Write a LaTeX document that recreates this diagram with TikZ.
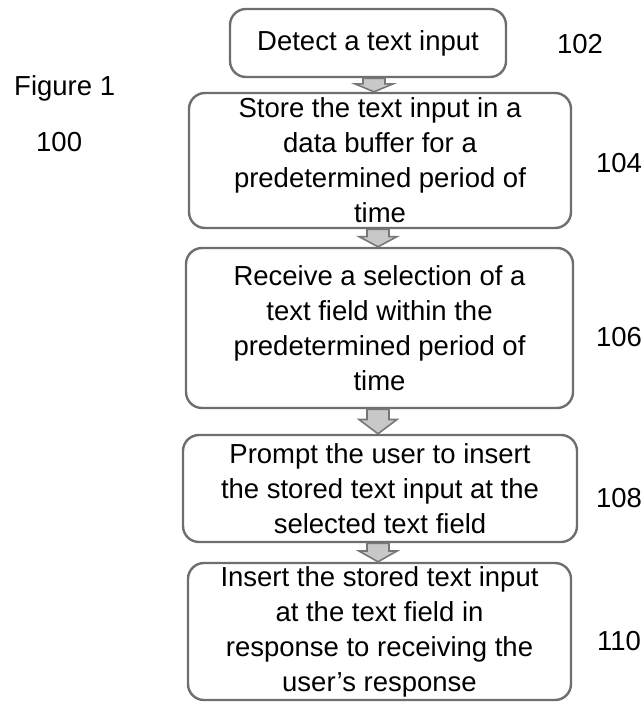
\documentclass[tikz,border=0pt]{standalone}
\usepackage{fontspec}
\setmainfont{Liberation Sans}
\usetikzlibrary{calc}
\definecolor{edgegray}{HTML}{6E6E6E}
\definecolor{arrowfill}{HTML}{C8C8C8}
\definecolor{arrowedge}{HTML}{777777}
% block arrow from the bottom of #1 to the top of #2, centred at x = #3 (pt)
\newcommand\flowarrow[3]{%
  \path[flow] let \p1=(#1.south), \p2=(#2.north), \p3=($(\p1)!0.42!(\p2)$) in
    (#3pt-11pt,\y1) -- (#3pt+11pt,\y1) -- (#3pt+11pt,\y3) -- (#3pt+19pt,\y3)
    -- (#3pt,\y2) -- (#3pt-19pt,\y3) -- (#3pt-11pt,\y3) -- cycle;}
\begin{document}
\begin{tikzpicture}[x=1pt,y=-1pt,
  stepbox/.style={draw=edgegray, line width=2.4pt, rounded corners=16pt,
    fill=white, align=center, inner sep=0pt,
    font=\fontsize{27.5}{35}\selectfont},
  tag/.style={font=\fontsize{27.5}{35}\selectfont, inner sep=0pt, anchor=base},
  flow/.style={draw=arrowedge, line width=1.6pt, fill=arrowfill, line join=miter}]
\useasboundingbox (0,0) rectangle (643,704);

% process steps
\node[stepbox, minimum width=276pt, minimum height=68pt] (b1) at (368,43)
  {Detect a text input};
\node[stepbox, minimum width=382pt, minimum height=135pt] (b2) at (380,160.5)
  {Store the text input in a\\ data buffer for a\\ predetermined period of\\ time};
\node[stepbox, minimum width=387pt, minimum height=160pt] (b3) at (379.5,328)
  {Receive a selection of a\\ text field within the\\ predetermined period of\\ time};
\node[stepbox, minimum width=394pt, minimum height=107pt] (b4) at (380,488.5)
  {Prompt the user to insert\\ the stored text input at the\\ selected text field};
\node[stepbox, minimum width=383pt, minimum height=137pt] (b5) at (379.5,631.5)
  {Insert the stored text input\\ at the text field in\\ response to receiving the\\ user’s response};

% connectors between the steps
\flowarrow{b1}{b2}{374}
\flowarrow{b2}{b3}{378}
\flowarrow{b3}{b4}{378}
\flowarrow{b4}{b5}{378}

% figure caption and reference numerals
\node[tag, anchor=base west] (fig) at (14,95) {Figure 1};
\node[tag, anchor=base west] (n100) at (36,151) {100};
\node[tag] (n102) at (580,53) {102};
\node[tag] (n104) at (619,172) {104};
\node[tag] (n106) at (619,346) {106};
\node[tag] (n108) at (619,507) {108};
\node[tag] (n110) at (619,650) {110};
\end{tikzpicture}
\end{document}
